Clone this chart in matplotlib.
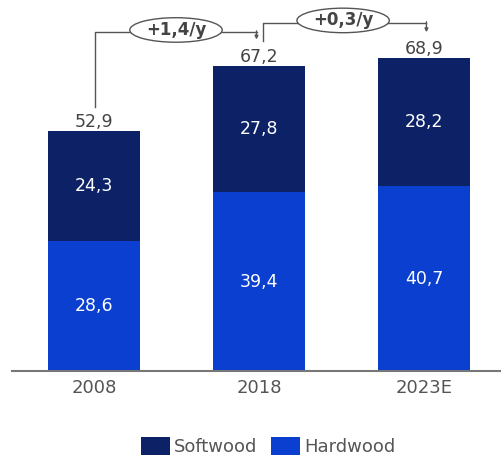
import matplotlib.pyplot as plt
from matplotlib.patches import Ellipse

years = ['2008', '2018', '2023E']
hardwood = [28.6, 39.4, 40.7]
softwood = [24.3, 27.8, 28.2]
totals = [52.9, 67.2, 68.9]
growth = ['+1,4/y', '+0,3/y']

soft_col = '#0c2166'
hard_col = '#0a3fcf'
grey = '#555555'

fig = plt.figure(figsize=(5.01, 4.63), dpi=100)
ax = fig.add_axes([12 / 501, 92 / 463, 489 / 501, 371 / 463])

x = range(len(years))
ax.bar(x, hardwood, width=0.56, color=hard_col, label='Hardwood')
ax.bar(x, softwood, width=0.56, bottom=hardwood, color=soft_col, label='Softwood')

for i in x:
    ax.text(i, hardwood[i] / 2, f'{hardwood[i]:.1f}'.replace('.', ','),
            ha='center', va='center', color='white', fontsize=12.5)
    ax.text(i, hardwood[i] + softwood[i] / 2, f'{softwood[i]:.1f}'.replace('.', ','),
            ha='center', va='center', color='white', fontsize=12.5)
    ax.text(i, totals[i] + 0.9, f'{totals[i]:.1f}'.replace('.', ','),
            ha='center', va='baseline', color='#444444', fontsize=12.5)

ax.set_xlim(-0.497, 2.467)
ax.set_ylim(0, 81.7)
for s in ['top', 'right', 'left']:
    ax.spines[s].set_visible(False)
ax.spines['bottom'].set_color('#777777')
ax.spines['bottom'].set_linewidth(1.5)
ax.set_yticks([])
ax.set_xticks(list(x))
ax.set_xticklabels(years, fontsize=13, color=grey)
ax.tick_params(axis='x', length=0, pad=6)

# growth connectors
lc = '#555555'
# 2008 -> 2018
ax.plot([0.006, 0.006, 0.985], [58.1, 74.7, 74.7], color=lc, lw=1, clip_on=False)
ax.annotate('', xy=(0.985, 73.0), xytext=(0.985, 74.9),
            arrowprops=dict(arrowstyle='-|>', color=lc, lw=1, mutation_scale=5,
                            shrinkA=0, shrinkB=0), annotation_clip=False)
# 2018 -> 2023E
ax.plot([1.024, 1.024, 2.015], [72.6, 76.7, 76.7], color=lc, lw=1, clip_on=False)
ax.annotate('', xy=(2.015, 74.6), xytext=(2.015, 76.9),
            arrowprops=dict(arrowstyle='-|>', color=lc, lw=1, mutation_scale=5,
                            shrinkA=0, shrinkB=0), annotation_clip=False)

for cx, cy, txt in [(0.497, 75.1, growth[0]), (1.51, 77.2, growth[1])]:
    e = Ellipse((cx, cy), 0.56, 5.4, facecolor='white', edgecolor=lc, lw=1,
                clip_on=False, zorder=3)
    ax.add_patch(e)
    ax.text(cx, cy, txt, ha='center', va='center', fontsize=12,
            fontweight='bold', color='#444444', zorder=4)

handles, labels = ax.get_legend_handles_labels()
leg = fig.legend(handles[::-1], labels[::-1], loc='lower center',
                 bbox_to_anchor=(0.535, -0.02), ncol=2, frameon=False,
                 fontsize=13, handlelength=1.6, handleheight=1.2,
                 handletextpad=0.2, columnspacing=0.8)
for t in leg.get_texts():
    t.set_color(grey)

fig.savefig('out.png', dpi=100)
